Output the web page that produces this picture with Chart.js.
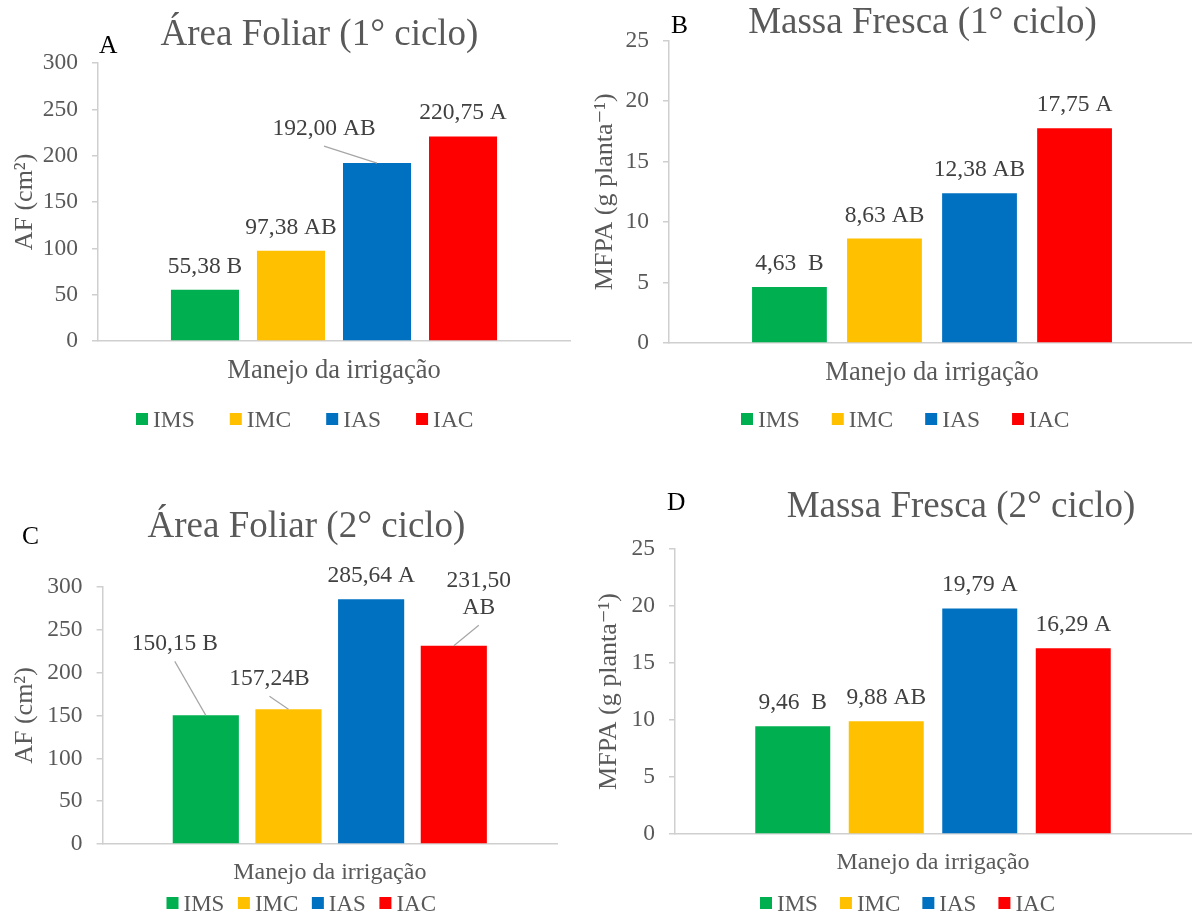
<!DOCTYPE html>
<html lang="pt">
<head>
<meta charset="utf-8">
<title>Área foliar e massa fresca por manejo da irrigação</title>
<script src="https://cdn.jsdelivr.net/npm/chart.js@4/dist/chart.umd.min.js"></script>
<style>
  html, body { margin: 0; padding: 0; background: #ffffff; width: 1192px; height: 915px; overflow: hidden; }
  canvas { position: absolute; }
</style>
</head>
<body>
<canvas id="painelA" width="590" height="455" style="left:0px;top:0px"></canvas>
<canvas id="painelB" width="605" height="455" style="left:590px;top:0px"></canvas>
<canvas id="painelC" width="590" height="460" style="left:0px;top:455px"></canvas>
<canvas id="painelD" width="605" height="460" style="left:590px;top:455px"></canvas>
<script>
// ---- data ----
const categoria = ['Manejo da irrigação'];
const manejos = ['IMS', 'IMC', 'IAS', 'IAC'];

const areaFoliar1 = [55.38, 97.38, 192.00, 220.75];
const massaFresca1 = [4.63, 8.63, 12.38, 17.75];
const areaFoliar2 = [150.15, 157.24, 285.64, 231.50];
const massaFresca2 = [9.46, 9.88, 19.79, 16.29];

// Tukey letters shown after each value ("\n" breaks the label in two lines)
const letrasAF1 = [' B', ' AB', ' AB', ' A'];
const letrasMF1 = ['  B', ' AB', ' AB', ' A'];
const letrasAF2 = [' B', 'B', ' A', '\nAB'];
const letrasMF2 = ['  B', ' AB', ' A', ' A'];

const ticksAF = [0, 50, 100, 150, 200, 250, 300];
const ticksMF = [0, 5, 10, 15, 20, 25];

// ---- styles ----
const cores = ['#00B050', '#FFC000', '#0070C0', '#FF0000'];
const SERIF = "'Liberation Serif', 'Times New Roman', 'DejaVu Serif', serif";
const CINZA = '#595959';
const CINZA_ROTULO = '#404040';
const EIXO = '#cfcfcf';

Chart.defaults.font.family = SERIF;

function formatar(v) { return v.toFixed(2).replace('.', ','); }

// Titles, panel letter, legend and value labels drawn on the chart canvas
const decoracao = {
  id: 'decoracao',
  afterDatasetsDraw(chart, args, o) {
    const ctx = chart.ctx;
    ctx.save();
    ctx.font = `${o.rotuloTam}px ${SERIF}`;
    ctx.fillStyle = CINZA_ROTULO;
    ctx.textAlign = 'center';
    ctx.textBaseline = 'alphabetic';
    chart.data.datasets.forEach((ds, i) => {
      const bar = chart.getDatasetMeta(i).data[0];
      const aj = o.ajustes[i] || {};
      const linhas = (formatar(ds.data[0]) + o.letras[i]).split('\n');
      const cx = bar.x + (aj.dx || 0);
      const base = bar.y - (aj.sobe !== undefined ? aj.sobe : 17);
      linhas.forEach((t, k) => {
        ctx.fillText(t, cx, base - (linhas.length - 1 - k) * o.entrelinha);
      });
      if (aj.guia) {
        ctx.strokeStyle = '#a6a6a6';
        ctx.lineWidth = 1.2;
        ctx.beginPath();
        ctx.moveTo(cx, base + 11);
        ctx.lineTo(bar.x, bar.y);
        ctx.stroke();
      }
    });
    ctx.restore();
  },
  afterDraw(chart, args, o) {
    const ctx = chart.ctx;
    const ox = o.origem[0], oy = o.origem[1];
    ctx.save();
    ctx.textBaseline = 'alphabetic';
    // chart title
    ctx.font = `${o.titulo.tam}px ${SERIF}`;
    ctx.fillStyle = CINZA;
    ctx.textAlign = 'center';
    ctx.fillText(o.titulo.texto, o.titulo.x - ox, o.titulo.y - oy);
    // panel letter
    ctx.font = `${o.letra.tam}px ${SERIF}`;
    ctx.fillStyle = '#000000';
    ctx.textAlign = 'left';
    ctx.fillText(o.letra.texto, o.letra.x - ox, o.letra.y - oy);
    // legend
    ctx.font = `${o.legenda.tam}px ${SERIF}`;
    let x = o.legenda.x - ox;
    const y = o.legenda.y - oy;
    chart.data.datasets.forEach(ds => {
      ctx.fillStyle = ds.backgroundColor;
      ctx.fillRect(x, y - 14, 12, 12);
      ctx.fillStyle = CINZA;
      ctx.fillText(ds.label, x + 17, y);
      x += 17 + ctx.measureText(ds.label).width + o.legenda.espaco;
    });
    ctx.restore();
  }
};

function painel(id, p) {
  return new Chart(document.getElementById(id), {
    type: 'bar',
    data: {
      labels: categoria,
      datasets: manejos.map((nome, i) => ({
        label: nome,
        data: [p.valores[i]],
        backgroundColor: cores[i],
        borderWidth: 0,
        categoryPercentage: p.cat,
        barPercentage: p.barra
      }))
    },
    options: {
      responsive: false,
      animation: false,
      events: [],
      layout: { padding: { left: 0, top: p.topo, right: p.direita, bottom: 0 } },
      plugins: {
        legend: { display: false },
        tooltip: { enabled: false },
        title: { display: false },
        decoracao: {
          origem: p.origem,
          letras: p.letras,
          ajustes: p.ajustes || {},
          rotuloTam: 23.5,
          entrelinha: 27.6,
          titulo: p.titulo,
          letra: p.letra,
          legenda: p.legenda
        }
      },
      scales: {
        x: {
          grid: { display: false, drawTicks: false },
          border: { display: true, color: EIXO, width: 1.5 },
          ticks: { color: CINZA, font: { size: p.xFonte }, padding: 14 },
          afterFit(s) { s.height = p.xAltura; }
        },
        y: {
          min: p.ticks[0],
          max: p.ticks[p.ticks.length - 1],
          ticks: {
            stepSize: p.ticks[1] - p.ticks[0],
            color: CINZA,
            font: { size: 23.5 },
            padding: 14
          },
          grid: { display: true, drawOnChartArea: false, drawTicks: true, tickLength: 6, color: EIXO, lineWidth: 1.5 },
          border: { display: true, color: EIXO, width: 1.5 },
          title: {
            display: true,
            text: p.yTitulo,
            color: CINZA,
            font: { size: 26 },
            padding: { top: p.yTituloPad, bottom: 0 }
          },
          afterFit(s) { s.width = p.yLargura; }
        }
      }
    },
    plugins: [decoracao]
  });
}

painel('painelA', {
  origem: [0, 0],
  valores: areaFoliar1, letras: letrasAF1, ticks: ticksAF,
  ajustes: { 2: { dx: -53, sobe: 28, guia: true } },
  cat: 0.729, barra: 0.791,
  topo: 63, direita: 20, yLargura: 98, xAltura: 114, xFonte: 26.5,
  yTitulo: 'AF (cm²)', yTituloPad: 9.3,
  titulo: { texto: 'Área Foliar (1° ciclo)', x: 319.5, y: 45, tam: 37 },
  letra: { texto: 'A', x: 99, y: 53, tam: 25.5 },
  legenda: { x: 136, y: 427, espaco: 35, tam: 23.5 }
});

painel('painelB', {
  origem: [590, 0],
  valores: massaFresca1, letras: letrasMF1, ticks: ticksMF,
  cat: 0.7227, barra: 0.787,
  topo: 40.5, direita: 0, yLargura: 79, xAltura: 112, xFonte: 26.5,
  yTitulo: 'MFPA (g planta⁻¹)', yTituloPad: 0,
  titulo: { texto: 'Massa Fresca (1° ciclo)', x: 922.5, y: 33, tam: 37 },
  letra: { texto: 'B', x: 671, y: 33, tam: 25.5 },
  legenda: { x: 741, y: 427, espaco: 32, tam: 23.5 }
});

painel('painelC', {
  origem: [0, 455],
  valores: areaFoliar2, letras: letrasAF2, ticks: ticksAF,
  ajustes: {
    0: { dx: -31, sobe: 65, guia: true },
    1: { dx: -19, sobe: 24, guia: true },
    3: { dx: 25, sobe: 31.4, guia: true }
  },
  cat: 0.7277, barra: 0.80,
  topo: 132, direita: 33, yLargura: 102.6, xAltura: 71, xFonte: 24,
  yTitulo: 'AF (cm²)', yTituloPad: 9.3,
  titulo: { texto: 'Área Foliar (2° ciclo)', x: 306.5, y: 537, tam: 37 },
  letra: { texto: 'C', x: 22, y: 544, tam: 25.5 },
  legenda: { x: 166.5, y: 911, espaco: 13.5, tam: 23 }
});

painel('painelD', {
  origem: [590, 455],
  valores: massaFresca2, letras: letrasMF2, ticks: ticksMF,
  cat: 0.7248, barra: 0.802,
  topo: 94, direita: 4, yLargura: 85, xAltura: 81, xFonte: 24,
  yTitulo: 'MFPA (g planta⁻¹)', yTituloPad: 3.4,
  titulo: { texto: 'Massa Fresca (2° ciclo)', x: 961, y: 517, tam: 37 },
  letra: { texto: 'D', x: 667, y: 510, tam: 25.5 },
  legenda: { x: 760, y: 911, espaco: 22, tam: 23 }
});
</script>
</body>
</html>
